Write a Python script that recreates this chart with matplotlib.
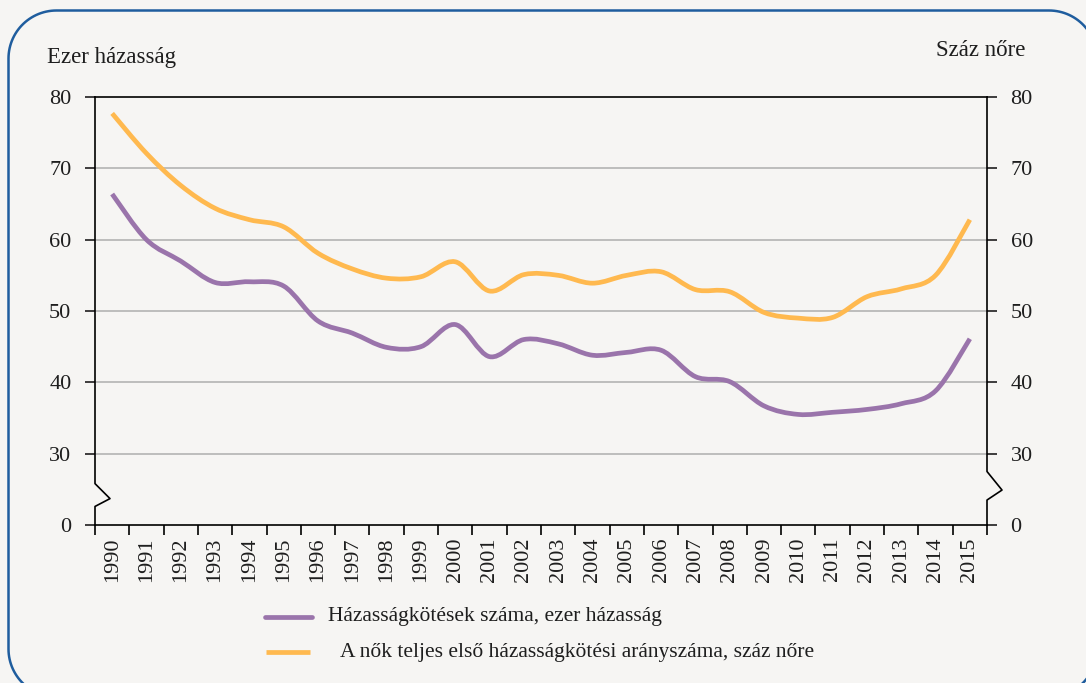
import numpy as np
import matplotlib
matplotlib.use('Agg')
import matplotlib.pyplot as plt
from matplotlib.path import Path
from matplotlib.patches import PathPatch
from matplotlib.lines import Line2D
import matplotlib.transforms as mtransforms

# Data
years = [str(y) for y in range(1990, 2016)]
marriages = [66.4, 60.0, 57.0, 54.0, 54.1, 53.5, 48.6, 46.9, 44.9, 45.0,
             48.1, 43.6, 46.0, 45.4, 43.8, 44.2, 44.5, 40.8, 40.1, 36.7,
             35.5, 35.8, 36.2, 37.0, 38.8, 46.1]
first_marriage_rate = [77.7, 72.1, 67.6, 64.4, 62.8, 61.8, 58.1, 55.9, 54.6, 54.8,
                       56.9, 52.8, 55.1, 55.0, 53.9, 55.0, 55.5, 53.0, 52.7, 49.8,
                       49.0, 49.1, 52.0, 53.1, 55.0, 62.8]
ytick_vals = [20, 30, 40, 50, 60, 70, 80]
ytick_labels = ['0', '30', '40', '50', '60', '70', '80']

label_left = 'Ezer házasság'
label_right = 'Száz nőre'
legend_labels = ['Házasságkötések száma, ezer házasság',
                 'A nők teljes első házasságkötési arányszáma, száz nőre']

purple = '#9a74ab'
orange = '#ffb94f'
bg = '#f6f5f3'
txt = '#1e1e1e'
plt.rcParams['font.family'] = 'Liberation Serif'


def smooth_path(xs, ys):
    # Excel-like smoothed line (Catmull-Rom as cubic Bezier)
    n = len(xs)
    verts = [(xs[0], ys[0])]
    codes = [Path.MOVETO]
    for i in range(n - 1):
        i0 = max(i - 1, 0)
        i3 = min(i + 2, n - 1)
        c1 = (xs[i] + (xs[i + 1] - xs[i0]) / 6, ys[i] + (ys[i + 1] - ys[i0]) / 6)
        c2 = (xs[i + 1] - (xs[i3] - xs[i]) / 6, ys[i + 1] - (ys[i3] - ys[i]) / 6)
        verts += [c1, c2, (xs[i + 1], ys[i + 1])]
        codes += [Path.CURVE4] * 3
    return Path(verts, codes)


def rounded_rect(x0, y0, x1, y1, r):
    # outline of a rounded rectangle in pixel units (y up)
    px, py = [], []
    corners = [(x1 - r, y1 - r, 0), (x0 + r, y1 - r, 90),
               (x0 + r, y0 + r, 180), (x1 - r, y0 + r, 270)]
    for cx, cy, a in corners:
        t = np.radians(np.linspace(a, a + 90, 30))
        px += list(cx + r * np.cos(t))
        py += list(cy + r * np.sin(t))
    px.append(px[0])
    py.append(py[0])
    return np.array(px), np.array(py)


W, H = 1086, 683
fig = plt.figure(figsize=(W / 100, H / 100), dpi=100)
fig.patch.set_facecolor(bg)

# rounded frame (runs past the right and bottom edges)
fx, fy = rounded_rect(8.5, H - 697, 1097, H - 10.5, 48)
fig.add_artist(Line2D(fx / W, fy / H, color='#1f5d9e', linewidth=1.8))

ax = fig.add_axes([95 / W, 1 - 525 / H, 892 / W, 428 / H])
ax.set_facecolor(bg)
ax.set_xlim(0, len(years))
ax.set_ylim(20, 80)

xs = [i + 0.5 for i in range(len(years))]
ax.add_patch(PathPatch(smooth_path(xs, marriages), facecolor='none',
                       edgecolor=purple, linewidth=3.4, capstyle='butt', zorder=3))
ax.add_patch(PathPatch(smooth_path(xs, first_marriage_rate), facecolor='none',
                       edgecolor=orange, linewidth=3.4, capstyle='butt', zorder=3))

# gridlines
for v in [30, 40, 50, 60, 70]:
    ax.axhline(v, color='#b3b3b3', linewidth=1.2, zorder=1)

for s in ['left', 'right']:
    ax.spines[s].set_visible(False)
ax.spines['top'].set_linewidth(1.2)
ax.spines['bottom'].set_linewidth(1.2)

# spines with break marks
trans = mtransforms.blended_transform_factory(ax.transAxes, ax.transData)
dx = 15 / 892
ax.add_line(Line2D([0, 0, dx, 0, 0], [80, 25.8, 23.7, 22.6, 20], transform=trans,
                   color='black', linewidth=1.2, clip_on=False, zorder=4))
ax.add_line(Line2D([1, 1, 1 + dx, 1, 1], [80, 27.5, 24.9, 23.5, 20], transform=trans,
                   color='black', linewidth=1.2, clip_on=False, zorder=4))

# y ticks
ax.set_yticks(ytick_vals)
ax.set_yticklabels(ytick_labels)
ax.tick_params(axis='y', direction='out', length=7, width=1.2, labelsize=16,
               left=True, right=True, labelleft=True, labelright=True, pad=10,
               colors=txt)

# x ticks at category boundaries, labels at centers
ax.set_xticks(range(len(years) + 1))
ax.set_xticklabels([''] * (len(years) + 1))
ax.set_xticks(xs, minor=True)
ax.set_xticklabels(years, minor=True, rotation=90)
ax.tick_params(axis='x', which='major', direction='out', length=7, width=1.2)
ax.tick_params(axis='x', which='minor', length=0, labelsize=16, pad=9,
               colors=txt)

fig.text(47 / W, 1 - 58 / H, label_left, fontsize=16.5, va='center',
         ha='left', color=txt)
fig.text(1025 / W, 1 - 50 / H, label_right, fontsize=16.5, va='center',
         ha='right', color=txt)

# legend
fig.add_artist(Line2D([265 / W, 312 / W], [1 - 617 / H] * 2,
                      color=purple, linewidth=3.4, solid_capstyle='round'))
fig.add_artist(Line2D([266 / W, 310 / W], [1 - 652 / H] * 2,
                      color=orange, linewidth=3.4, solid_capstyle='butt'))
fig.text(328 / W, 1 - 617 / H, legend_labels[0], fontsize=15.5,
         va='center', ha='left', color=txt)
fig.text(340 / W, 1 - 652 / H, legend_labels[1], fontsize=15.5,
         va='center', ha='left', color=txt)

fig.savefig('out.png', dpi=100, facecolor=bg)
